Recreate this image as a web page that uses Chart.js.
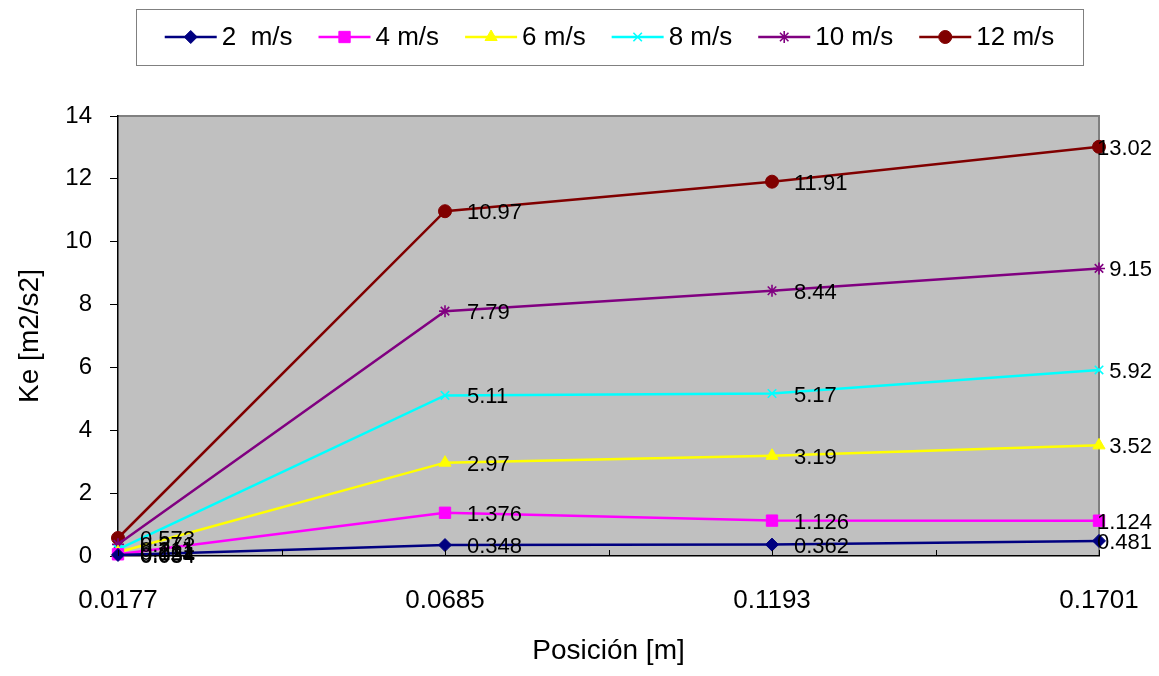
<!DOCTYPE html>
<html>
<head>
<meta charset="utf-8">
<script src="https://cdn.jsdelivr.net/npm/chart.js@4.4.0/dist/chart.umd.min.js"></script>
<style>
  html, body { margin: 0; padding: 0; background: #fff; overflow: hidden; }
  #contenedor { width: 1159px; height: 676px; }
</style>
</head>
<body>
<div id="contenedor"><canvas id="grafico-ke"></canvas></div>
<script>
// posiciones (eje x) y energía cinética por velocidad
const posiciones = ['0.0177', '0.0685', '0.1193', '0.1701'];
const ke2 = [0.034, 0.348, 0.362, 0.481];
const ke4 = [0.054, 1.376, 1.126, 1.124];
const ke6 = [0.121, 2.97, 3.19, 3.52];
const ke8 = [0.211, 5.11, 5.17, 5.92];
const ke10 = [0.371, 7.79, 8.44, 9.15];
const ke12 = [0.573, 10.97, 11.91, 13.02];
const velocidades = ['2  m/s', '4 m/s', '6 m/s', '8 m/s', '10 m/s', '12 m/s'];
const yMin = 0, yMax = 14, yPaso = 2;

const FUENTE = '"Liberation Sans", Arial, sans-serif';

const estilos = [
    { color: '#000080', punto: 'rectRot', radio: 6.5 },
    { color: '#FF00FF', punto: 'rect', radio: 8 },
    { color: '#FFFF00', punto: 'triangle', radio: 7 },
    { color: '#00FFFF', punto: 'crossRot', radio: 6 },
    { color: '#800080', punto: 'star', radio: 6 },
    { color: '#800000', punto: 'circle', radio: 6.5 }
];
const series = [ke2, ke4, ke6, ke8, ke10, ke12];

const datasets = series.map((valores, i) => ({
    label: velocidades[i],
    data: valores,
    borderColor: estilos[i].color,
    backgroundColor: estilos[i].color,
    pointBackgroundColor: estilos[i].color,
    pointBorderColor: estilos[i].color,
    pointStyle: estilos[i].punto,
    pointRadius: estilos[i].radio,
    pointBorderWidth: (estilos[i].punto === 'star' || estilos[i].punto === 'crossRot') ? 1.6 : 1,
    borderWidth: 2.5,
    tension: 0,
    clip: false
}));

// fondo gris del área de trazado y su borde
const fondoArea = {
    id: 'fondoArea',
    beforeDraw(chart) {
        const { ctx, chartArea: a } = chart;
        ctx.save();
        ctx.fillStyle = '#C0C0C0';
        ctx.fillRect(a.left, a.top, a.right - a.left, a.bottom - a.top);
        ctx.strokeStyle = '#808080';
        ctx.lineWidth = 2;
        ctx.beginPath();
        ctx.moveTo(a.left, a.top);
        ctx.lineTo(a.right, a.top);
        ctx.lineTo(a.right, a.bottom);
        ctx.stroke();
        ctx.restore();
    }
};

// marcas del eje x hacia dentro, en cada categoría y entre ellas
const marcasX = {
    id: 'marcasX',
    afterDraw(chart) {
        const { ctx, chartArea: a } = chart;
        const x = chart.scales.x;
        const pxs = [];
        for (let i = 0; i < posiciones.length; i++) {
            pxs.push(x.getPixelForValue(i));
            if (i < posiciones.length - 1) pxs.push((x.getPixelForValue(i) + x.getPixelForValue(i + 1)) / 2);
        }
        ctx.save();
        ctx.strokeStyle = '#000';
        ctx.lineWidth = 1;
        pxs.forEach(px => {
            ctx.beginPath();
            ctx.moveTo(Math.round(px) + 0.5, a.bottom);
            ctx.lineTo(Math.round(px) + 0.5, a.bottom - 6);
            ctx.stroke();
        });
        ctx.restore();
    }
};

// etiquetas con el valor de cada punto
const etiquetas = {
    id: 'etiquetas',
    afterDatasetsDraw(chart) {
        const ctx = chart.ctx;
        ctx.save();
        ctx.font = '22px ' + FUENTE;
        ctx.fillStyle = '#000';
        ctx.textAlign = 'left';
        ctx.textBaseline = 'middle';
        chart.data.datasets.forEach((ds, i) => {
            const meta = chart.getDatasetMeta(i);
            meta.data.forEach((pt, j) => {
                const txt = String(ds.data[j]);
                const w = ctx.measureText(txt).width;
                const x = Math.min(pt.x + 22, chart.width - 7 - w);
                ctx.fillText(txt, x, pt.y + 2);
            });
        });
        ctx.restore();
    }
};

// leyenda en caja superior
const leyenda = {
    id: 'leyenda',
    afterDraw(chart) {
        const ctx = chart.ctx;
        const caja = { x: 136, y: 9, w: 947, h: 56 };
        ctx.save();
        ctx.fillStyle = '#fff';
        ctx.fillRect(caja.x, caja.y, caja.w, caja.h);
        ctx.strokeStyle = '#808080';
        ctx.lineWidth = 1;
        ctx.strokeRect(caja.x + 0.5, caja.y + 0.5, caja.w, caja.h);

        ctx.font = '26px ' + FUENTE;
        const linea = 52, sep = 5, hueco = 26;
        const anchos = velocidades.map(t => ctx.measureText(t).width);
        const total = anchos.reduce((s, w) => s + linea + sep + w, 0) + hueco * (velocidades.length - 1);
        let x = caja.x + (caja.w - total) / 2;
        const y = caja.y + caja.h / 2;
        chart.data.datasets.forEach((ds, i) => {
            ctx.strokeStyle = ds.borderColor;
            ctx.lineWidth = 2.5;
            ctx.beginPath();
            ctx.moveTo(x, y);
            ctx.lineTo(x + linea, y);
            ctx.stroke();
            ctx.fillStyle = ds.pointBackgroundColor;
            ctx.strokeStyle = ds.pointBorderColor;
            ctx.lineWidth = ds.pointBorderWidth;
            Chart.helpers.drawPoint(ctx, { pointStyle: ds.pointStyle, radius: ds.pointRadius, rotation: 0, borderWidth: ds.pointBorderWidth }, x + linea / 2, y);
            ctx.fillStyle = '#000';
            ctx.textAlign = 'left';
            ctx.textBaseline = 'middle';
            ctx.fillText(velocidades[i], x + linea + sep, y + 1);
            x += linea + sep + anchos[i] + hueco;
        });
        ctx.restore();
    }
};

const ctx = document.getElementById('grafico-ke').getContext('2d');
new Chart(ctx, {
    type: 'line',
    data: { labels: posiciones, datasets: datasets },
    options: {
        responsive: true,
        maintainAspectRatio: false,
        animation: false,
        layout: { padding: { top: 116, right: 60, left: 0, bottom: 0 } },
        plugins: {
            legend: { display: false },
            tooltip: { enabled: false }
        },
        scales: {
            x: {
                type: 'category',
                offset: false,
                grid: { display: false, drawTicks: false },
                border: { display: true, color: '#000', width: 1.5 },
                ticks: {
                    color: '#000',
                    font: { family: FUENTE, size: 26 },
                    padding: 29,
                    autoSkip: false,
                    maxRotation: 0
                },
                title: {
                    display: true,
                    text: 'Posición [m]',
                    color: '#000',
                    font: { family: FUENTE, size: 28 },
                    padding: { top: 0, bottom: 8 }
                },
                afterFit(scale) {
                    scale.height = 120;
                    scale.paddingLeft = 0;
                    scale.paddingRight = 0;
                }
            },
            y: {
                min: yMin,
                max: yMax,
                grid: { display: true, drawOnChartArea: false, drawTicks: true, tickLength: 8, color: '#000' },
                border: { display: true, color: '#000', width: 1.5 },
                ticks: {
                    stepSize: yPaso,
                    color: '#000',
                    font: { family: FUENTE, size: 24 },
                    padding: 18
                },
                title: {
                    display: true,
                    text: 'Ke [m2/s2]',
                    color: '#000',
                    font: { family: FUENTE, size: 28 },
                    padding: { top: 13, bottom: 0 }
                },
                afterFit(scale) { scale.width = 118; }
            }
        }
    },
    plugins: [fondoArea, marcasX, etiquetas, leyenda]
});
</script>
</body>
</html>
